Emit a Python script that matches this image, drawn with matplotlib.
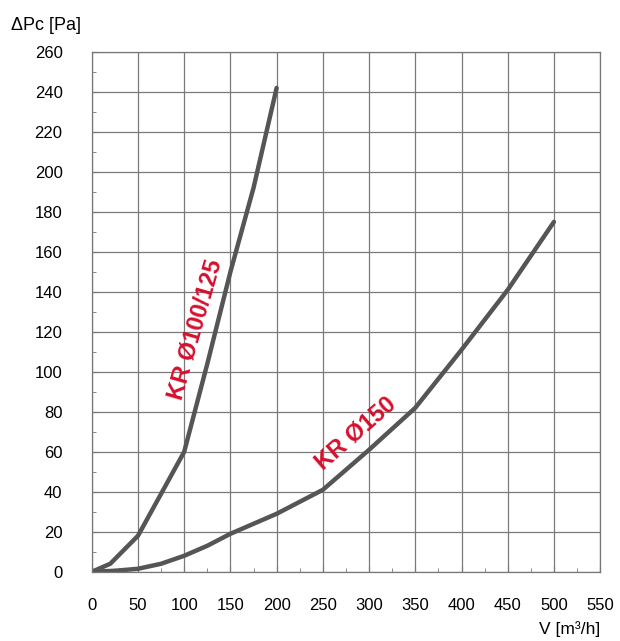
import matplotlib.pyplot as plt
from matplotlib.ticker import MultipleLocator

plt.rcParams['font.family'] = ['Liberation Sans', 'DejaVu Sans']

# KR Ø100/125 curve
v_small = [0, 20, 50, 75, 100, 125, 150, 175, 200]
dp_small = [0, 4, 18, 39, 60, 104, 150, 192, 242]

# KR Ø150 curve
v_large = [0, 25, 50, 75, 100, 125, 150, 200, 250, 300, 350, 400, 450, 500]
dp_large = [0, 0.5, 1.5, 4, 8, 13, 19, 29, 41, 61, 82, 111, 141, 175]

curve_color = '#555555'
label_color = '#d6102e'

fig = plt.figure(figsize=(6.2, 6.41), dpi=100)
ax = fig.add_axes([0.148, 0.108, 0.82, 0.811])

ax.plot(v_small, dp_small, color=curve_color, lw=3.2, solid_capstyle='round')
ax.plot(v_large, dp_large, color=curve_color, lw=3.2, solid_capstyle='round')

ax.set_xlim(0, 550)
ax.set_ylim(0, 260)
ax.xaxis.set_major_locator(MultipleLocator(50))
ax.xaxis.set_minor_locator(MultipleLocator(25))
ax.yaxis.set_major_locator(MultipleLocator(20))
ax.yaxis.set_minor_locator(MultipleLocator(10))
ax.grid(True, which='major', color='#7a7a7a', lw=0.9)
ax.tick_params(which='both', direction='in', labelsize=12, color='#777777')
ax.tick_params(axis='x', pad=19)
ax.tick_params(axis='y', pad=21)
ax.tick_params(which='major', length=4)
ax.tick_params(which='minor', length=3)
for s in ax.spines.values():
    s.set_color('#777777')
    s.set_linewidth(0.9)

ax.text(112, 121, 'KR Ø100/125', color=label_color, fontsize=17, rotation=74,
        ha='center', va='center', fontweight='bold')
ax.text(285, 69, 'KR Ø150', color=label_color, fontsize=17, rotation=41,
        ha='center', va='center', fontweight='bold')

fig.text(0.018, 0.96, 'ΔPc [Pa]', fontsize=13, ha='left', va='center')
fig.text(0.968, 0.018, 'V [m³/h]', fontsize=12.5, ha='right', va='center')

fig.savefig('out.png', dpi=100)
